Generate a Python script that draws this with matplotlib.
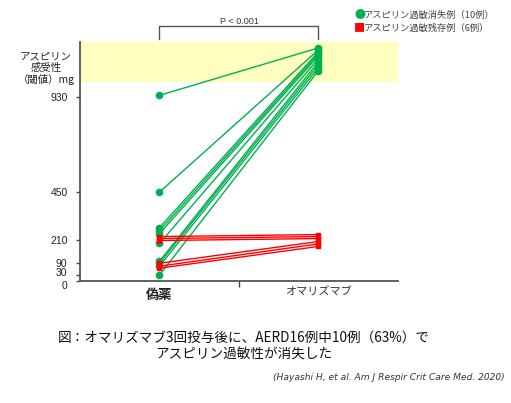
import numpy as np
import matplotlib
matplotlib.use("Agg")
import matplotlib.pyplot as plt

plt.rcParams['font.family'] = ['Noto Sans CJK JP', 'DejaVu Sans']

# data
groups = ['偽薬', 'オマリズマブ']
resolved_before = [940, 450, 270, 255, 240, 190, 100, 90, 75, 30]
resolved_after = [1180, 1170, 1160, 1150, 1140, 1125, 1110, 1095, 1080, 1065]
persist_before = [225, 215, 205, 90, 75, 65]
persist_after = [235, 225, 215, 200, 188, 175]
yticks = [0, 30, 90, 210, 450, 930]
band = (1010, 1210)

green = '#00B050'
red = '#FF0000'

fig = plt.figure(figsize=(5.11, 4.03), dpi=100)
ax = fig.add_axes([0.1566, 0.3027, 0.622, 0.5931])

x = np.arange(len(groups))
ax.axhspan(band[0], band[1], color='#FFFFC0', zorder=0)

for b, a in zip(resolved_before, resolved_after):
    ax.plot(x, [b, a], color=green, lw=1, marker='o', ms=4.5, zorder=3)
for b, a in zip(persist_before, persist_after):
    ax.plot(x, [b, a], color=red, lw=1, marker='s', ms=3.5, zorder=4)

ax.set_xlim(-0.5, 1.5)
ax.set_ylim(0, band[1])
ax.set_yticks(yticks)
# "0" and "30" are drawn by hand below, nudged apart so they do not collide
ax.set_yticklabels(['' if v in (0, 30) else str(v) for v in yticks],
                   fontsize=7.5, color='#222222', family='Liberation Sans')
for v, dy in [(0, -3.5), (30, 1.5)]:
    ax.annotate(str(v), xy=(0, v), xycoords=ax.get_yaxis_transform(),
                xytext=(-9, dy), textcoords='offset points', ha='right',
                va='center', fontsize=7.5, color='#222222',
                family='Liberation Sans', annotation_clip=False)
ax.set_xticks([0.5])
ax.set_xticklabels([''])
ax.tick_params(axis='y', length=3, width=1, color='#444444', pad=6)
ax.tick_params(axis='x', length=4, width=1, color='#444444')
for s in ['top', 'right']:
    ax.spines[s].set_visible(False)
for s in ['left', 'bottom']:
    ax.spines[s].set_color('#555555')
    ax.spines[s].set_linewidth(1.3)

# group labels
ax.text(0, -0.028, groups[0], transform=ax.get_xaxis_transform(),
        ha='center', va='top', fontsize=9.5, fontweight='bold', color='#222222')
ax.text(1, -0.028, groups[1], transform=ax.get_xaxis_transform(),
        ha='center', va='top', fontsize=8, color='#333333')

# y label
fig.text(0.09, 0.83, 'アスピリン\n感受性\n（閾値）mg', ha='center', va='center',
         fontsize=7.5, color='#222222', linespacing=1.15)

# significance bracket
ax.plot([0, 0, 1, 1], [1225, 1290, 1290, 1225], color='#555555', lw=1,
        clip_on=False)
ax.text(0.5, 1292, 'P < 0.001', ha='center', va='bottom', fontsize=6.5,
        color='#333333', family='Liberation Sans')

# legend
fig.text(0.693, 0.962, '●', color=green, fontsize=8, ha='left', va='center')
fig.text(0.713, 0.962, 'アスピリン過敏消失例（10例）', color='#444444',
         fontsize=6.7, ha='left', va='center')
fig.text(0.693, 0.93, '■', color=red, fontsize=8, ha='left', va='center')
fig.text(0.713, 0.93, 'アスピリン過敏残存例（6例）', color='#444444',
         fontsize=6.7, ha='left', va='center')

# caption
fig.text(0.477, 0.162, '図：オマリズマブ3回投与後に、AERD16例中10例（63%）で',
         ha='center', va='center', fontsize=9.8, color='#111111')
fig.text(0.477, 0.122, 'アスピリン過敏性が消失した', ha='center', va='center',
         fontsize=9.8, color='#111111')
fig.text(0.988, 0.064, '(Hayashi H, et al. Am J Respir Crit Care Med. 2020)',
         ha='right', va='center', fontsize=6.6, style='italic', color='#333333',
         family='DejaVu Sans')

fig.savefig('out.png', dpi=100)
